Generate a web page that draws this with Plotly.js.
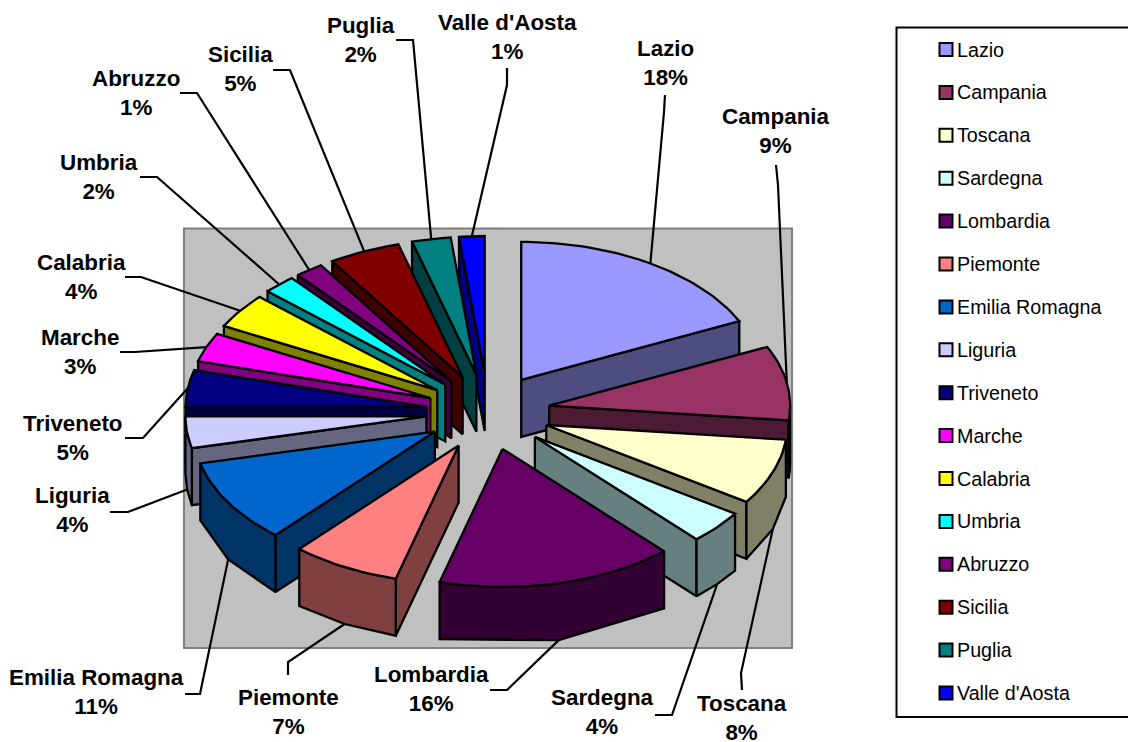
<!DOCTYPE html>
<html><head><meta charset="utf-8">
<script src="https://cdn.plot.ly/plotly-3.0.1.min.js"></script>
<style>html,body{margin:0;padding:0;background:#fff;overflow:hidden}#c{width:1128px;height:742px}</style>
</head><body><div id="c"></div>
<script>
// ---- data ----
const regions = ["Lazio","Campania","Toscana","Sardegna","Lombardia","Piemonte","Emilia Romagna","Liguria","Triveneto","Marche","Calabria","Umbria","Abruzzo","Sicilia","Puglia","Valle d'Aosta"];
const sliceShares = [18,8.7,7.7,3.9,15.9,7.3,9.8,3.7,4.3,3.4,4.1,2.2,1.9,4.8,2.6,1.7];
const percentLabels = ["18%","9%","8%","4%","16%","7%","11%","4%","5%","3%","4%","2%","1%","5%","2%","1%"];
const topColors = ["#9999FF","#993366","#FFFFCC","#CCFFFF","#660066","#FF8080","#0066CC","#CCCCFF","#000080","#FF00FF","#FFFF00","#00FFFF","#800080","#800000","#008080","#0000FF"];
// label centres and leader-line elbows, in page pixels
const labelX = [665,776,742,602,431,288,96,72,73,80,81,99,136,240,361,507];
const labelY = [63,131,718,712,689,712,692,510,438,352,277,177,93,69,40,37];
const elbowA = [[665,95],[776,165],[742,690],[655,715],[490,690],[288,675],[185,694],[110,512],[125,438],[120,352],[125,277],[140,177],[180,93],[273,70],[396,40],[507,68]];
const elbowB = [[664,112],[778,185],[741,673],[672,715],[507,690],[288,662],[200,694],[128,512],[143,438],[135,352],[141,277],[157,177],[197,93],[290,70],[413,40],[507,85]];

// ---- projection of the tilted pie ----
const CX=488, CY=412, A=241, B=138, DEPTH=57, EXPLODE_X=62, EXPLODE_Y=38;
const rad = d => d*Math.PI/180;
const total = sliceShares.reduce((a,b)=>a+b,0);
const halve = h => '#'+[1,3,5].map(i=>Math.round(parseInt(h.substr(i,2),16)/2).toString(16).padStart(2,'0')).join('');

let cum=0;
const slices = regions.map((name,i)=>{
  const s=cum/total*360; cum+=sliceShares[i]; const e=cum/total*360; const m=(s+e)/2;
  const ax=CX+EXPLODE_X*Math.sin(rad(m)), ay=CY-EXPLODE_Y*Math.cos(rad(m));
  const pt=(d,dz=0)=>[ax+A*Math.sin(rad(d)), ay-B*Math.cos(rad(d))+dz];
  return {i,name,s,e,m,ax,ay,pt};
});
const sweep=(a,b,f)=>{const n=Math.max(2,Math.ceil((b-a)/1.5));const o=[];for(let k=0;k<=n;k++)o.push(f(a+(b-a)*k/n));return o;};
const poly=(pts,fill,name)=>({type:'scatter',mode:'lines',x:pts.map(p=>p[0]),y:pts.map(p=>p[1]),fill:'toself',fillcolor:fill,
  line:{color:'#000',width:2.3},hoverinfo:'skip',showlegend:false,name});

const traces=[];
// leader lines sit behind the slices and end on the middle of each rim
slices.forEach(sl=>{
  const end=sl.pt(sl.m,(sl.m>90&&sl.m<270)?DEPTH:0);
  const a=elbowA[sl.i],b=elbowB[sl.i];
  traces.push({type:'scatter',mode:'lines',x:[a[0],b[0],end[0]],y:[a[1],b[1],end[1]],line:{color:'#000',width:2.2},hoverinfo:'skip',showlegend:false,name:sl.name+' leader'});
});
// back to front
[...slices].sort((p,q)=>Math.abs(q.m-180)-Math.abs(p.m-180)).forEach(sl=>{
  const c=topColors[sl.i], w=halve(c), A0=[sl.ax,sl.ay], A1=[sl.ax,sl.ay+DEPTH];
  const radial=d=>[A0,sl.pt(d),sl.pt(d,DEPTH),A1,A0];
  if(sl.e>0&&sl.e<180) traces.push(poly(radial(sl.e),w,sl.name+' side'));
  if(sl.s>=180&&sl.s<360) traces.push(poly(radial(sl.s),w,sl.name+' side'));
  const r0=Math.max(sl.s,90), r1=Math.min(sl.e,270);
  if(r1>r0){
    const up=sweep(r0,r1,d=>sl.pt(d)), dn=sweep(r1,r0,d=>sl.pt(d,DEPTH));
    traces.push(poly([...up,...dn,up[0]],w,sl.name+' rim'));
  }
  traces.push(poly([A0,...sweep(sl.s,sl.e,d=>sl.pt(d)),A0],c,sl.name));
});
// key column
const keyY=regions.map((_,i)=>49.5+i*42.9);
traces.push({type:'scatter',mode:'markers',x:regions.map(()=>946),y:keyY,marker:{symbol:'square',size:13,color:topColors,line:{color:'#000',width:2}},hoverinfo:'skip',showlegend:false,name:'key'});

const annotations=[
  ...slices.map(sl=>({x:labelX[sl.i],y:labelY[sl.i],xref:'x',yref:'y',text:'<b>'+sl.name+'<br>'+percentLabels[sl.i]+'</b>',showarrow:false,xanchor:'center',yanchor:'middle',align:'center',font:{family:'Liberation Sans',size:22.4,color:'#000'}})),
  ...regions.map((r,i)=>({x:957,y:keyY[i],xref:'x',yref:'y',text:r,showarrow:false,xanchor:'left',yanchor:'middle',xshift:-2,font:{family:'Liberation Sans',size:19.7,color:'#000'}}))
];
const layout={width:1128,height:742,margin:{l:0,r:0,t:0,b:0},paper_bgcolor:'#fff',plot_bgcolor:'rgba(0,0,0,0)',showlegend:false,
  xaxis:{range:[0,1128],visible:false,fixedrange:true},yaxis:{range:[742,0],visible:false,fixedrange:true},
  shapes:[
    {type:'rect',xref:'x',yref:'y',x0:184,x1:792,y0:228.5,y1:648,fillcolor:'#C0C0C0',line:{color:'#808080',width:2},layer:'below'},
    {type:'rect',xref:'x',yref:'y',x0:896.5,x1:1135,y0:27.5,y1:717,fillcolor:'#fff',line:{color:'#000',width:2},layer:'below'}
  ],annotations};
Plotly.newPlot('c',traces,layout,{displayModeBar:false,staticPlot:true});
</script></body></html>
